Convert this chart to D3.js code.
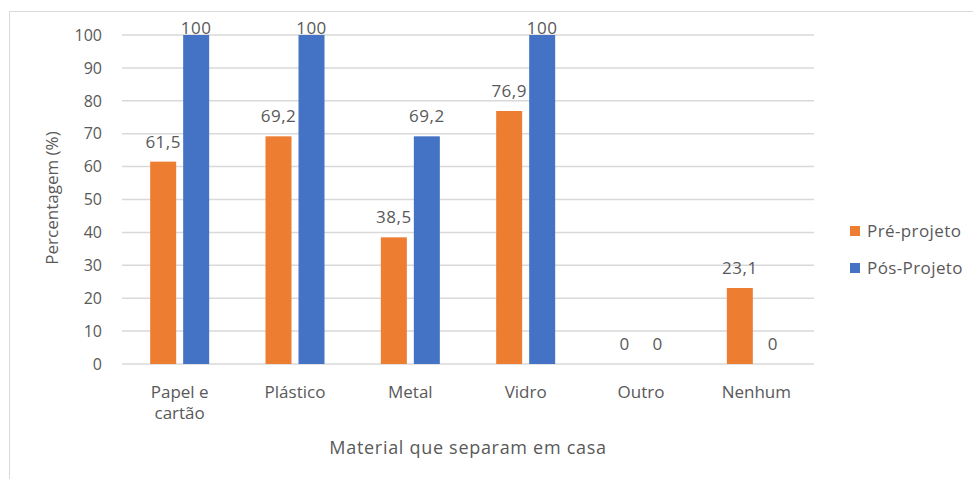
<!DOCTYPE html>
<html>
<head>
<meta charset="utf-8">
<script src="https://cdn.jsdelivr.net/npm/d3@7"></script>
<style>
  body { margin: 0; background: #fff; }
  text { font-family: "Open Sans", sans-serif; fill: #595959; }
</style>
</head>
<body>
<script>
// Chart data
var categories = [["Papel e", "cartão"], ["Plástico"], ["Metal"], ["Vidro"], ["Outro"], ["Nenhum"]];
var series = ["Pré-projeto", "Pós-Projeto"];
var preValues = [61.5, 69.2, 38.5, 76.9, 0, 23.1];
var posValues = [100, 100, 69.2, 100, 0, 0];
var yTicks = [0, 10, 20, 30, 40, 50, 60, 70, 80, 90, 100];
var colors = ["#ED7D31", "#4472C4"];

var width = 973, height = 479;
var plotLeft = 122, plotRight = 814, plotTop = 35, plotBottom = 364;

var svg = d3.select("body").append("svg")
    .attr("width", width)
    .attr("height", height);

// outer chart border (runs off the right and bottom edge)
svg.append("rect")
    .attr("x", 9.5).attr("y", 11.5)
    .attr("width", 1000).attr("height", 1000)
    .attr("fill", "none")
    .attr("stroke", "#d9d9d9");

var x = d3.scaleBand()
    .domain(d3.range(categories.length))
    .range([plotLeft, plotRight]);

var y = d3.scaleLinear()
    .domain([0, 100])
    .range([plotBottom, plotTop]);

var barW = 26, gap = 7;

// gridlines
svg.selectAll(".grid")
    .data(yTicks)
    .enter().append("line")
    .attr("x1", plotLeft).attr("x2", plotRight)
    .attr("y1", function (d) { return y(d); })
    .attr("y2", function (d) { return y(d); })
    .attr("stroke", "#d9d9d9")
    .attr("stroke-width", 1.5);

// y tick labels
svg.selectAll(".ytick")
    .data(yTicks)
    .enter().append("text")
    .attr("x", plotLeft - 20)
    .attr("y", function (d) { return y(d); })
    .attr("dy", "0.36em")
    .attr("text-anchor", "end")
    .style("font-size", "16px")
    .text(function (d) { return d; });

var fmt = function (v) { return String(v).replace(".", ","); };

[preValues, posValues].forEach(function (vals, s) {
    var off = s === 0 ? -gap / 2 - barW : gap / 2;
    svg.selectAll(".bar" + s)
        .data(vals)
        .enter().append("rect")
        .attr("x", function (d, i) { return x(i) + x.bandwidth() / 2 + off; })
        .attr("y", function (d) { return y(d); })
        .attr("width", barW)
        .attr("height", function (d) { return plotBottom - y(d); })
        .attr("fill", colors[s]);

    svg.selectAll(".lab" + s)
        .data(vals)
        .enter().append("text")
        .attr("x", function (d, i) { return x(i) + x.bandwidth() / 2 + off + barW / 2; })
        .attr("y", function (d) { return Math.max(y(d) - 14, plotTop - 1); })
        .attr("text-anchor", "middle")
        .style("font-size", "17px")
        .style("letter-spacing", "0.5px")
        .text(function (d) { return fmt(d); });
});

// category labels
categories.forEach(function (lines, i) {
    var t = svg.append("text")
        .attr("x", x(i) + x.bandwidth() / 2)
        .attr("y", 398)
        .attr("text-anchor", "middle")
        .style("font-size", "17px");
    lines.forEach(function (l, k) {
        t.append("tspan")
            .attr("x", x(i) + x.bandwidth() / 2)
            .attr("dy", k === 0 ? 0 : 21)
            .text(l);
    });
});

// axis titles
svg.append("text")
    .attr("transform", "translate(58,198) rotate(-90)")
    .attr("text-anchor", "middle")
    .style("font-size", "17px")
    .text("Percentagem (%)");

svg.append("text")
    .attr("x", 468)
    .attr("y", 454)
    .attr("text-anchor", "middle")
    .style("font-size", "18px")
    .style("letter-spacing", "0.7px")
    .text("Material que separam em casa");

// legend
var legend = svg.selectAll(".legend")
    .data(series)
    .enter().append("g")
    .attr("transform", function (d, i) { return "translate(850," + (231 + i * 37) + ")"; });

legend.append("rect")
    .attr("x", 0).attr("y", -5)
    .attr("width", 10).attr("height", 10)
    .attr("fill", function (d, i) { return colors[i]; });

legend.append("text")
    .attr("x", 17)
    .attr("y", 0)
    .attr("dy", "0.36em")
    .style("font-size", "17px")
    .style("letter-spacing", "0.4px")
    .text(function (d) { return d; });
</script>
</body>
</html>
